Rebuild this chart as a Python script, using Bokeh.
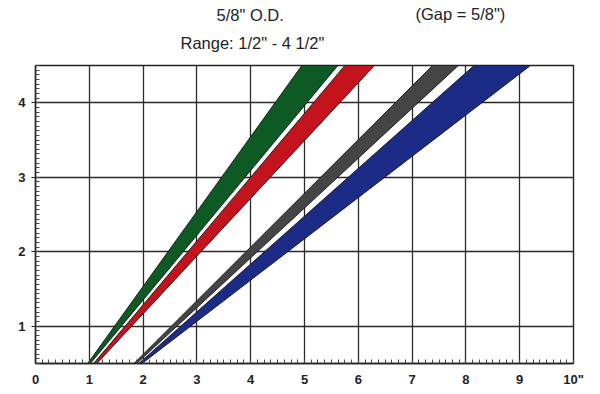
from bokeh.plotting import figure
from bokeh.models import FixedTicker, Range1d, Title
from bokeh.embed import file_html
from bokeh.resources import INLINE

# ---- data ----
band_colors = ["#0d5a24", "#c3141e", "#454545", "#1c2b86"]
# x position of each band's edges at the bottom (y=0.5) and top (y=4.5)
y_levels = [0.5, 4.5]
left_bottom = [0.97, 1.08, 1.83, 1.92]
right_bottom = [1.02, 1.14, 1.88, 1.98]
left_top = [4.95, 5.75, 7.38, 8.15]
right_top = [5.62, 6.30, 7.86, 9.20]

x_ticks = list(range(0, 11))
x_tick_labels = {10: '10"'}
y_ticks = [1, 2, 3, 4]
x_minor = [i / 8 for i in range(0, 81)]
y_minor = [0.5 + i / 16 for i in range(0, 65)]

title1 = '5/8" O.D.'
title2 = 'Range: 1/2" - 4 1/2"'
title3 = '(Gap = 5/8")'

FONT = "Liberation Sans"
FRAME_W, FRAME_H = 538, 298

p = figure(frame_width=FRAME_W, frame_height=FRAME_H,
           x_range=Range1d(0, 10), y_range=Range1d(0.5, 4.5),
           output_backend="svg", toolbar_location=None,
           min_border_left=35, min_border_right=19,
           min_border_top=65, min_border_bottom=23,
           background_fill_color="white", border_fill_color="white")

p.outline_line_color = "#222222"
p.outline_line_width = 1.4

xs = []
ys = []
for i in range(len(band_colors)):
    xs.append([left_bottom[i], left_top[i], right_top[i], right_bottom[i]])
    ys.append([y_levels[0], y_levels[1], y_levels[1], y_levels[0]])

p.patches(xs, ys, fill_color=band_colors, line_color="#151515", line_width=0.9)

# axes
p.xaxis.ticker = FixedTicker(ticks=x_ticks, minor_ticks=x_minor)
p.yaxis.ticker = FixedTicker(ticks=y_ticks, minor_ticks=y_minor)
p.xaxis.major_label_overrides = x_tick_labels
for ax in (p.xaxis[0], p.yaxis[0]):
    ax.axis_line_color = "#222222"
    ax.axis_line_width = 1.4
    ax.major_tick_line_color = "#222222"
    ax.minor_tick_line_color = "#444444"
    ax.minor_tick_in = 4
    ax.minor_tick_out = 0
    ax.major_tick_in = 0
    ax.major_label_text_font = FONT
    ax.major_label_text_font_style = "bold"
    ax.major_label_text_font_size = "13px"
    ax.major_label_text_color = "#222222"
p.xaxis.major_tick_out = 0
p.xaxis.major_label_standoff = 8
p.yaxis.major_tick_out = 4
p.yaxis.major_label_standoff = 6

p.xgrid.ticker = FixedTicker(ticks=x_ticks)
p.ygrid.ticker = FixedTicker(ticks=y_ticks)
for g in (p.xgrid[0], p.ygrid[0]):
    g.grid_line_color = "#2a2a2a"
    g.grid_line_width = 1.3
    g.grid_line_alpha = 1.0

tstyle = dict(text_font=FONT, text_font_size="16.5px", text_font_style="normal",
              text_color="#222222", align="left")
t2 = Title(text=title2, offset=145, standoff=27, **tstyle)
t1 = Title(text=title1, offset=181, standoff=-11, **tstyle)
t3 = Title(text=title3, offset=380, standoff=-27, **tstyle)
p.add_layout(t2, "above")
p.add_layout(t1, "above")
p.add_layout(t3, "above")

open("out.html", "w").write(file_html(p, INLINE))
